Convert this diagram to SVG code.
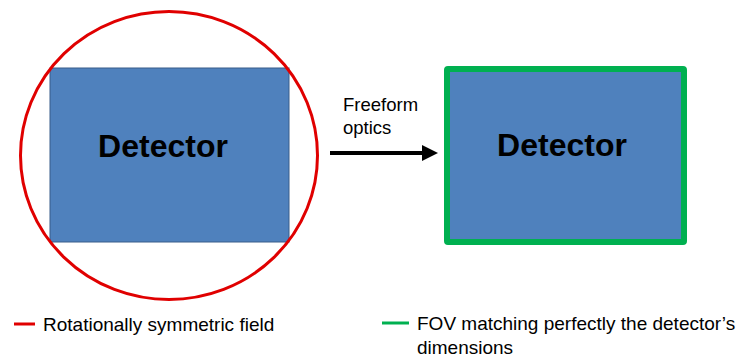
<svg xmlns="http://www.w3.org/2000/svg" width="737" height="358" viewBox="0 0 737 358">
  <style>
    .detector { fill: #4f81bd; }
    .label-big { font-family: "Liberation Sans", Arial, sans-serif; font-weight: bold; font-size: 32px; fill: #000; text-anchor: middle; }
    .label { font-family: "Liberation Sans", Arial, sans-serif; font-size: 18.5px; fill: #000; }
    .legend { font-family: "Liberation Sans", Arial, sans-serif; font-size: 19px; fill: #000; }
  </style>
  <defs>
    <marker id="arrowhead" markerWidth="4" markerHeight="4" refX="0" refY="2" orient="auto" markerUnits="strokeWidth" viewBox="0 0 4 4">
      <path d="M0,0 L4,2 L0,4 Z" fill="#000"/>
    </marker>
  </defs>

  <!-- left detector inside the rotationally symmetric field -->
  <g id="detector-left">
    <rect class="detector" x="50" y="68" width="239" height="174" stroke="#385d8a" stroke-width="1"/>
    <text class="label-big" x="163" y="157">Detector</text>
  </g>
  <g id="field-circle">
    <ellipse cx="169" cy="155.5" rx="148.5" ry="144" fill="none" stroke="#e00000" stroke-width="3"/>
  </g>

  <!-- right detector with matching FOV -->
  <g id="detector-right">
    <rect class="detector" x="447" y="69" width="237" height="173" stroke="#00b050" stroke-width="6" rx="1"/>
    <text class="label-big" x="562" y="156">Detector</text>
  </g>

  <!-- connector -->
  <g id="connectors">
    <line x1="330" y1="153" x2="422" y2="153" stroke="#000" stroke-width="4" marker-end="url(#arrowhead)"/>
    <text class="label" x="343" y="111">Freeform</text>
    <text class="label" x="343" y="134">optics</text>
  </g>

  <!-- legend -->
  <g id="legend-red">
    <line x1="14" y1="324" x2="35" y2="324" stroke="#e00000" stroke-width="3"/>
    <text class="legend" x="43" y="331">Rotationally symmetric field</text>
  </g>
  <g id="legend-green">
    <line x1="382" y1="323" x2="409" y2="323" stroke="#00b050" stroke-width="3"/>
    <text class="legend" x="417" y="330">FOV matching perfectly the detector’s</text>
    <text class="legend" x="417" y="354">dimensions</text>
  </g>
</svg>
